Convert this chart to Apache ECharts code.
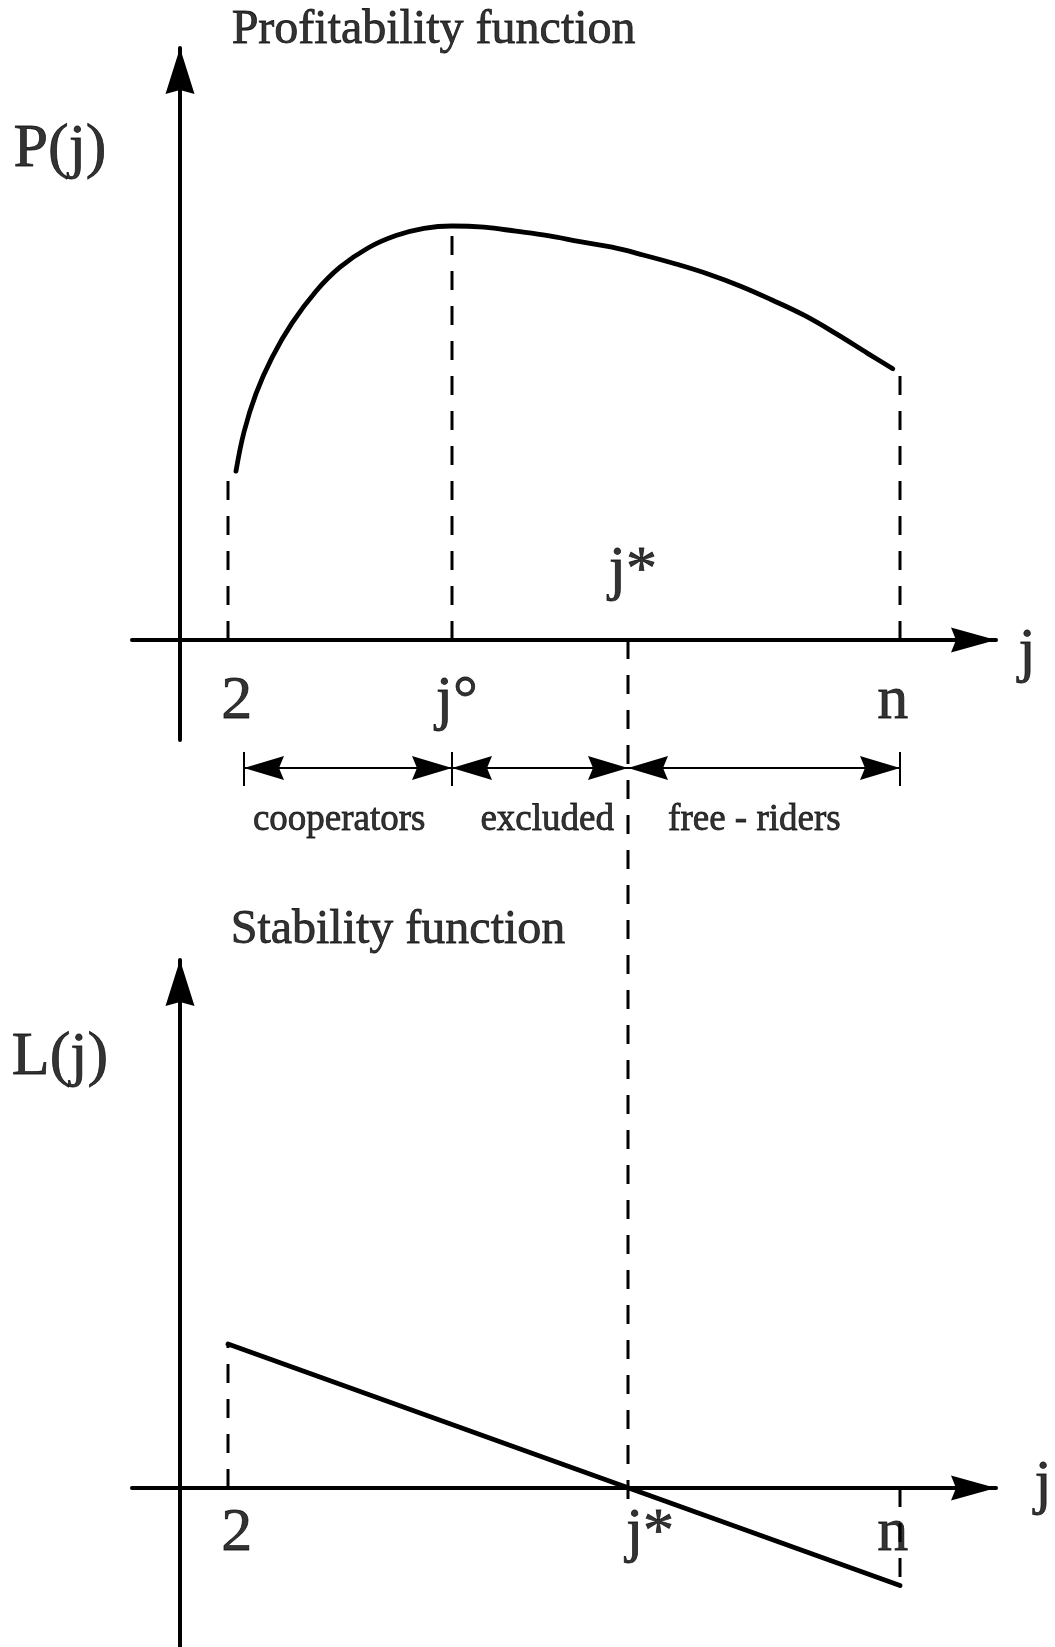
<!DOCTYPE html>
<html>
<head>
<meta charset="utf-8">
<title>Profitability and stability functions</title>
<script src="https://cdn.jsdelivr.net/npm/echarts@6/dist/echarts.min.js"></script>
<style>
    html, body { margin: 0; padding: 0; background: #fff; }
    #chart { width: 1055px; height: 1647px; }
</style>
</head>
<body>
<div id="chart"></div>
<script>
// x = position on the j axis, y = height above that panel's j axis
var profitX = [7.0, 8.0, 9.5, 11.5, 14, 17, 20, 23.5, 27, 30.5, 34, 38, 42, 46, 50, 54, 58, 62, 66, 70, 74, 78, 82, 86, 89.1];
var profitY = [21.1, 26.0, 30.8, 35.3, 39.6, 43.6, 46.6, 49.0, 50.55, 51.45, 51.75, 51.6, 51.1, 50.55, 49.8, 49.1, 48.1, 47.0, 45.75, 44.25, 42.5, 40.6, 38.3, 35.8, 33.9];

var stabilityX = [6, 90];
var stabilityY = [18, -12.2];

// marked coalition sizes
var jTwo = 6, jCirc = 34, jStar = 56, jN = 90;
// where the dashed guides stop (curve height at 2, j°, n)
var profitGuide = [20, 51, 34];
var stabilityGuide = [18, -12.2];
var jStarBottom = -108.1;   // j* guide runs down to the lower axis

// interval arrows under the upper axis
var rangeEdges = [8, jCirc, jStar, jN];
var rangeText = ['cooperators', 'excluded', 'free - riders'];
var rangeTextX = [19.9, 45.9, 71.8];

// tick labels
var topTickText = ['2', 'j\u00b0', 'n'];
var topTickX = [7.1, 34.6, 89.1];
var botTickText = ['2', 'j*', 'n'];
var botTickX = [7.1, 58.75, 89.1];

var black = '#000';
var serif = '"Liberation Serif", "Times New Roman", serif';
var dash = [19, 16];

// arrow heads, tip in the middle of the box so it lands on the line end
var hArrow = 'path://M12.5,0M12.5,45L25,90L12.5,85L0,90Z';
var vArrow = 'path://M14.5,0M14.5,46L29,92L14.5,88L0,92Z';
var rowArrow = 'path://M12,0M12,40L24,80L12,75L0,80Z';

function pairs(xs, ys) {
    return xs.map(function (x, i) { return [x, ys[i]]; });
}

function mainX(idx) {
    return {
        gridIndex: idx, type: 'value', min: -6, max: 102,
        axisLine: {onZero: true, lineStyle: {color: black, width: 4}, symbol: ['none', hArrow], symbolSize: [25, 90]},
        axisTick: {show: false}, axisLabel: {show: false}, splitLine: {show: false}
    };
}
function mainY(idx, lo, hi) {
    return {
        gridIndex: idx, type: 'value', min: lo, max: hi,
        axisLine: {onZero: true, lineStyle: {color: black, width: 4}, symbol: ['none', vArrow], symbolSize: [29, 92]},
        axisTick: {show: false}, axisLabel: {show: false}, splitLine: {show: false}
    };
}
function dashed(idx, pts) {
    return {
        type: 'line', xAxisIndex: idx, yAxisIndex: idx, data: pts,
        symbol: 'none', silent: true, clip: false, z: 3,
        lineStyle: {color: black, width: 3, type: dash}
    };
}
function solid(idx, pts) {
    return {
        type: 'line', xAxisIndex: idx, yAxisIndex: idx, data: pts,
        symbol: 'none', silent: true, z: 5,
        lineStyle: {color: black, width: 4.8, cap: 'round'}
    };
}
function textItem(name, x, y, size) {
    return {name: name, value: [x, y], label: {fontSize: size}};
}
function labels(idx, items) {
    return {
        type: 'scatter', xAxisIndex: idx, yAxisIndex: idx, data: items,
        symbolSize: 0, silent: true, clip: false, z: 10,
        label: {
            show: true, position: 'inside', formatter: '{b}', color: black,
            fontFamily: serif, fontSize: 62, textBorderColor: black, textBorderWidth: 0.8
        }
    };
}

var topLabels = [
    textItem('Profitability function', 31.7, 76.2, 48),
    textItem('P(j)', -15, 61.3, 62),
    textItem('j*', 56.6, 8.5, 62),
    textItem('j', 105.9, -1.75, 62)
];
topTickText.forEach(function (t, i) { topLabels.push(textItem(t, topTickX[i], -7.75, 62)); });
rangeText.forEach(function (t, i) { topLabels.push(textItem(t, rangeTextX[i], -22.5, 37)); });

var botLabels = [
    textItem('Stability function', 27.25, 69.75, 48),
    textItem('L(j)', -15, 53.75, 62),
    textItem('j', 107.9, 0.25, 62)
];
botTickText.forEach(function (t, i) { botLabels.push(textItem(t, botTickX[i], -5.75, 62)); });

var rowY = -16;
var rowLines = [];
for (var i = 0; i < rangeEdges.length - 1; i++) {
    rowLines.push([
        {coord: [rangeEdges[i], rowY], symbol: rowArrow, symbolSize: [24, 80]},
        {coord: [rangeEdges[i + 1], rowY], symbol: rowArrow, symbolSize: [24, 80]}
    ]);
}
[8, jCirc, jN].forEach(function (x) {
    rowLines.push([{coord: [x, -14], symbol: 'none'}, {coord: [x, -18.25], symbol: 'none'}]);
});

var jStarLine = dashed(2, [[jStar, 0], [jStar, jStarBottom]]);
jStarLine.markLine = {
    silent: true, animation: false,
    symbol: ['none', 'none'],
    label: {show: false},
    lineStyle: {color: black, width: 2, type: 'solid'},
    data: rowLines
};

var chart = echarts.init(document.getElementById('chart'), null, {renderer: 'canvas'});
chart.setOption({
    animation: false,
    backgroundColor: '#fff',
    grid: [
        {left: 132, top: 48, width: 864, height: 692, outerBoundsMode: 'none'},
        {left: 132, top: 960, width: 864, height: 688, outerBoundsMode: 'none'},
        {left: 0, top: 0, width: 1055, height: 1647, outerBoundsMode: 'none'},
        {left: 0, top: 0, width: 1055, height: 1647, outerBoundsMode: 'none'}
    ],
    xAxis: [
        mainX(0), mainX(1),
        {gridIndex: 2, type: 'value', min: -22.5, max: 109.375, show: false},
        {gridIndex: 3, type: 'value', min: -22.5, max: 109.375, show: false}
    ],
    yAxis: [
        mainY(0, -12.5, 74), mainY(1, -20, 66),
        {gridIndex: 2, type: 'value', min: -125.875, max: 80, show: false},
        {gridIndex: 3, type: 'value', min: -19.875, max: 186, show: false}
    ],
    series: [
        Object.assign(solid(0, pairs(profitX, profitY)), {smooth: 0.4}),
        solid(1, pairs(stabilityX, stabilityY)),
        dashed(0, [[jTwo, 0], [jTwo, profitGuide[0]]]),
        dashed(0, [[jCirc, 0], [jCirc, profitGuide[1]]]),
        dashed(0, [[jN, 0], [jN, profitGuide[2]]]),
        dashed(1, [[jTwo, 0], [jTwo, stabilityGuide[0]]]),
        dashed(1, [[jN, 0], [jN, stabilityGuide[1]]]),
        jStarLine,
        labels(2, topLabels),
        labels(3, botLabels)
    ]
});
</script>
</body>
</html>
